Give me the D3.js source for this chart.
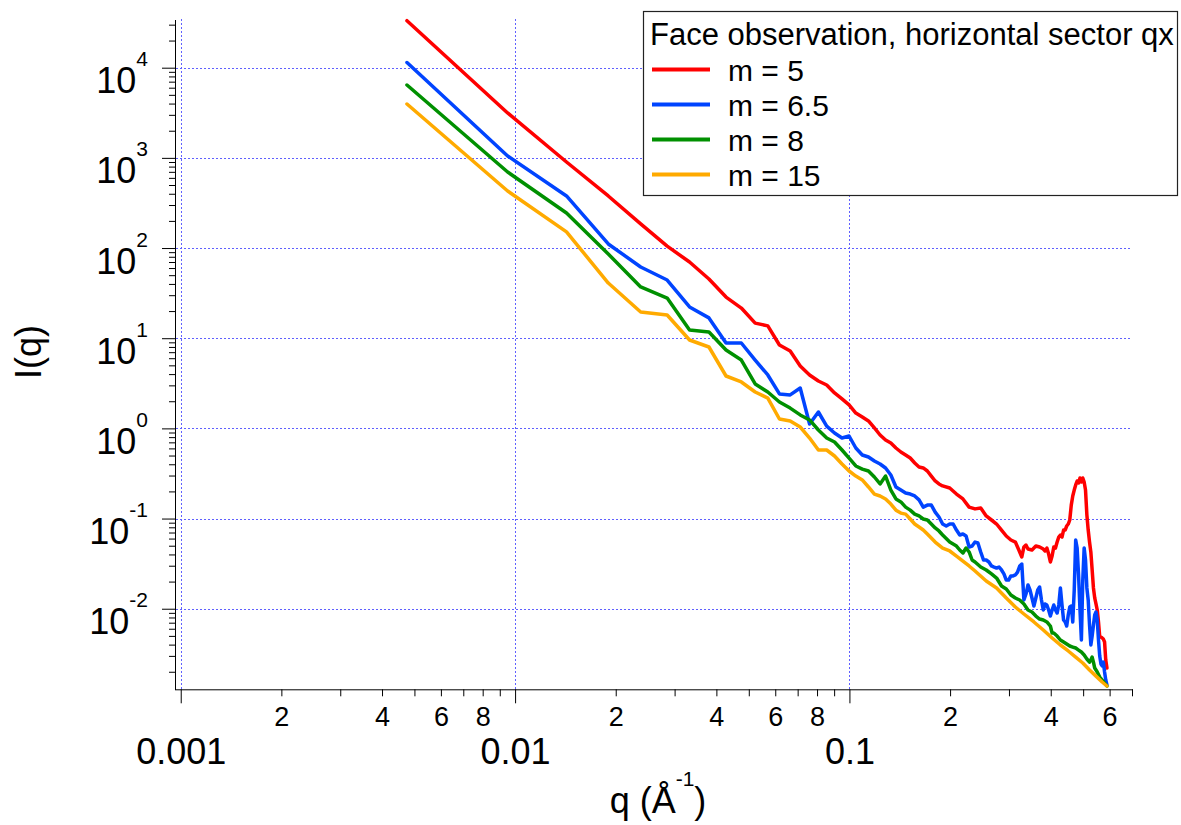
<!DOCTYPE html>
<html><head><meta charset="utf-8">
<script src="https://cdn.jsdelivr.net/npm/d3@7"></script>
<style>
body{margin:0;background:#fff}
svg{display:block}
text{font-family:"Liberation Sans",Arial,sans-serif}
</style>
</head><body>
<svg id="chart" width="1181" height="825"></svg>
<script>
// ---------- data (q in 1/Å, I(q) arbitrary units) ----------
const legendTitle = "Face observation, horizontal sector qx";
const seriesNames = ["m = 5", "m = 6.5", "m = 8", "m = 15"];
const seriesColors = ["#ff0000", "#0044ff", "#009000", "#ffaa00"];

const xDecades = [0.001, 0.01, 0.1];
const xDecadeLabels = ["0.001", "0.01", "0.1"];
const xMinorLabelled = [2, 4, 6, 8];
const yDecades = [1e-2, 1e-1, 1, 10, 100, 1000, 1e4];
const yExponents = ["-2", "-1", "0", "1", "2", "3", "4"];

const red = [[0.00475,33200],[0.0095,3150],[0.01425,900],[0.019,378],[0.02375,185],[0.0285,105],[0.03325,70],[0.038,45.4],[0.04275,28.6],[0.0475,21.6],[0.05225,14.7],[0.057,13.7],[0.06175,8.41],[0.0665,7.21],[0.07125,4.92],[0.076,3.91],[0.08075,3.35],[0.0855,3.03],[0.09025,2.47],[0.095,2.12],[0.09975,1.82],[0.1045,1.48],[0.10925,1.34],[0.114,1.21],[0.11875,1.01],[0.1235,0.845],[0.12825,0.743],[0.133,0.688],[0.13775,0.606],[0.1425,0.547],[0.14725,0.507],[0.152,0.469],[0.15675,0.413],[0.1615,0.373],[0.16625,0.364],[0.171,0.337],[0.17575,0.296],[0.1805,0.261],[0.18525,0.242],[0.19,0.230],[0.1995,0.218],[0.209,0.187],[0.2185,0.165],[0.228,0.134],[0.2375,0.128],[0.247,0.131],[0.2565,0.107],[0.266,0.0964],[0.2755,0.087],[0.285,0.0746],[0.2945,0.064],[0.304,0.0578],[0.3135,0.0549],[0.31825,0.0484],[0.323,0.0426],[0.32775,0.0375],[0.3325,0.0484],[0.33725,0.0509],[0.342,0.046],[0.3515,0.0448],[0.361,0.0496],[0.3705,0.0484],[0.38,0.046],[0.38475,0.0437],[0.3895,0.0471],[0.39425,0.0404],[0.399,0.033],[0.40375,0.0384],[0.4085,0.0484],[0.41325,0.0471],[0.418,0.0549],[0.42275,0.0624],[0.4275,0.0657],[0.43225,0.0624],[0.437,0.0746],[0.44175,0.0746],[0.4465,0.0827],[0.45125,0.087],[0.456,0.0964],[0.46075,0.141],[0.4655,0.178],[0.47025,0.207],[0.475,0.236],[0.47975,0.261],[0.4845,0.248],[0.48925,0.282],[0.494,0.254],[0.49875,0.282],[0.5035,0.254],[0.50825,0.207],[0.513,0.110],[0.51775,0.0746],[0.5225,0.0549],[0.52725,0.0426],[0.532,0.0269],[0.53675,0.017],[0.5415,0.0132],[0.54625,0.0113],[0.551,0.00968],[0.55575,0.00713],[0.5605,0.00486],[0.56525,0.00486],[0.57,0.00474],[0.57475,0.00461],[0.5795,0.00428],[0.58425,0.0027],[0.589,0.0022]];

const blue = [[0.00475,11400],[0.0095,1050],[0.01425,378],[0.019,111],[0.02375,61.6],[0.0285,44.2],[0.03325,22.2],[0.038,16.8],[0.04275,8.85],[0.0475,8.85],[0.05225,5.73],[0.057,3.91],[0.06175,2.41],[0.0665,2.35],[0.07125,2.80],[0.076,1.12],[0.08075,1.52],[0.0855,1.06],[0.09025,0.889],[0.095,0.782],[0.09975,0.823],[0.1045,0.606],[0.10925,0.507],[0.114,0.482],[0.11875,0.435],[0.1235,0.403],[0.12825,0.364],[0.133,0.304],[0.13775,0.224],[0.1425,0.207],[0.14725,0.192],[0.152,0.187],[0.15675,0.178],[0.1615,0.161],[0.16625,0.134],[0.171,0.141],[0.17575,0.141],[0.1805,0.118],[0.18525,0.104],[0.19,0.087],[0.19475,0.0827],[0.1995,0.087],[0.20425,0.087],[0.209,0.0746],[0.21375,0.0657],[0.2185,0.0674],[0.22325,0.064],[0.228,0.0484],[0.23275,0.0496],[0.2375,0.0549],[0.24225,0.0536],[0.247,0.0426],[0.25175,0.0347],[0.2565,0.0347],[0.26125,0.033],[0.266,0.0298],[0.27075,0.029],[0.2755,0.0283],[0.28025,0.029],[0.285,0.0269],[0.28975,0.0243],[0.2945,0.0208],[0.29925,0.0208],[0.304,0.0231],[0.30875,0.0231],[0.3135,0.0237],[0.31825,0.0255],[0.323,0.0298],[0.32775,0.0313],[0.3325,0.0125],[0.33725,0.01456],[0.342,0.01833],[0.34675,0.01613],[0.3515,0.01315],[0.35625,0.01072],[0.361,0.01315],[0.36575,0.01613],[0.3705,0.01741],[0.37525,0.0125],[0.38,0.00968],[0.38475,0.0113],[0.3895,0.011],[0.39425,0.00968],[0.399,0.0083],[0.40375,0.00968],[0.4085,0.011],[0.41325,0.00968],[0.418,0.00896],[0.42275,0.011],[0.4275,0.017],[0.43225,0.011],[0.437,0.0075],[0.44175,0.00713],[0.4465,0.00643],[0.45125,0.00852],[0.456,0.01045],[0.46075,0.01072],[0.4655,0.00713],[0.47025,0.0161],[0.475,0.0578],[0.47975,0.0471],[0.4845,0.0237],[0.48925,0.00968],[0.494,0.0045],[0.49875,0.0208],[0.5035,0.0471],[0.50825,0.0347],[0.513,0.017],[0.51775,0.0125],[0.5225,0.0066],[0.52725,0.00396],[0.532,0.00498],[0.53675,0.0066],[0.5415,0.00852],[0.54625,0.0092],[0.551,0.0075],[0.55575,0.0045],[0.5605,0.00299],[0.56525,0.00244],[0.57,0.00232],[0.57475,0.00256],[0.5795,0.00199],[0.58425,0.00162],[0.589,0.00143]];

const green = [[0.00475,6430],[0.0095,697],[0.01425,245],[0.019,85.9],[0.02375,37.0],[0.0285,27.9],[0.03325,12.3],[0.038,11.7],[0.04275,7.40],[0.0475,5.73],[0.05225,3.11],[0.057,2.53],[0.06175,1.96],[0.0665,1.68],[0.07125,1.41],[0.076,1.24],[0.08075,0.959],[0.0855,0.782],[0.09025,0.706],[0.095,0.576],[0.09975,0.469],[0.1045,0.383],[0.10925,0.354],[0.114,0.337],[0.11875,0.289],[0.1235,0.242],[0.12825,0.296],[0.133,0.207],[0.13775,0.165],[0.1425,0.153],[0.14725,0.134],[0.152,0.124],[0.15675,0.112],[0.1615,0.107],[0.16625,0.0989],[0.171,0.0964],[0.17575,0.087],[0.1805,0.0786],[0.18525,0.0728],[0.19,0.0657],[0.1995,0.0549],[0.209,0.0496],[0.21375,0.0448],[0.2185,0.0415],[0.22325,0.0471],[0.228,0.0426],[0.23275,0.0347],[0.2375,0.033],[0.247,0.029],[0.2565,0.0269],[0.266,0.0243],[0.2755,0.0219],[0.285,0.01786],[0.2945,0.01655],[0.304,0.0142],[0.3135,0.01315],[0.323,0.0125],[0.3325,0.0113],[0.342,0.00968],[0.3515,0.0092],[0.361,0.0083],[0.3705,0.00769],[0.38,0.0075],[0.3895,0.00713],[0.399,0.00643],[0.40375,0.00538],[0.4085,0.00538],[0.418,0.00498],[0.4275,0.0045],[0.437,0.00428],[0.4465,0.00406],[0.456,0.00386],[0.4655,0.00376],[0.475,0.00367],[0.4845,0.00348],[0.494,0.00331],[0.5035,0.00307],[0.513,0.00277],[0.5225,0.00256],[0.52725,0.0027],[0.532,0.00291],[0.53675,0.00256],[0.5415,0.0022],[0.551,0.00199],[0.5605,0.00175],[0.57,0.00162],[0.5795,0.0015],[0.589,0.00139]];

const orange = [[0.00475,3958],[0.0095,429],[0.01425,151],[0.019,40.9],[0.02375,19.5],[0.0285,18.1],[0.03325,9.55],[0.038,7.99],[0.04275,3.81],[0.0475,3.27],[0.05225,2.53],[0.057,2.17],[0.06175,1.27],[0.0665,1.21],[0.07125,1.036],[0.076,0.782],[0.08075,0.576],[0.0855,0.576],[0.09025,0.494],[0.095,0.403],[0.09975,0.337],[0.1045,0.296],[0.10925,0.268],[0.114,0.224],[0.11875,0.187],[0.1235,0.178],[0.12825,0.165],[0.133,0.145],[0.13775,0.124],[0.1425,0.115],[0.14725,0.112],[0.152,0.0989],[0.15675,0.087],[0.1615,0.0806],[0.16625,0.0746],[0.171,0.0674],[0.1805,0.0549],[0.19,0.0471],[0.1995,0.0437],[0.209,0.0384],[0.2185,0.0338],[0.228,0.0298],[0.2375,0.0262],[0.2565,0.0203],[0.2755,0.017],[0.2945,0.01315],[0.3135,0.01045],[0.3325,0.00874],[0.35625,0.00713],[0.38,0.00581],[0.40375,0.00474],[0.4275,0.00396],[0.45125,0.0034],[0.475,0.00291],[0.49875,0.0025],[0.5225,0.00209],[0.54625,0.00179],[0.57,0.00154],[0.589,0.00139]];

const allSeries = [red, blue, green, orange];

// ---------- layout ----------
const svg = d3.select("#chart");
const W = 1181, H = 825;
const x = d3.scaleLog().domain([0.000968, 0.7]).range([176, 1132]);
const y = d3.scaleLog().domain([0.001278, 33800]).range([689.3, 20]);
const [x0, x1] = x.range();
const [yb, yt] = y.range();

svg.append("rect").attr("width", W).attr("height", H).attr("fill", "#fff");

// grid
const grid = svg.append("g").attr("stroke", "#6060ff").attr("stroke-width", 1).attr("stroke-dasharray", "2,2");
grid.selectAll("line.hg").data(yDecades).join("line").attr("class", "hg")
  .attr("x1", x0).attr("x2", x1)
  .attr("y1", d => Math.round(y(d)) + 0.5).attr("y2", d => Math.round(y(d)) + 0.5);
grid.selectAll("line.vg").data(xDecades).join("line").attr("class", "vg")
  .attr("y1", yt - 1).attr("y2", yb)
  .attr("x1", d => Math.round(x(d)) + 0.5).attr("x2", d => Math.round(x(d)) + 0.5);

// curves
const line = d3.line().x(d => x(d[0])).y(d => y(d[1]));
svg.append("g").selectAll("path").data(allSeries).join("path")
  .attr("d", line).attr("fill", "none")
  .attr("stroke", (d, i) => seriesColors[i])
  .attr("stroke-width", 3.5).attr("stroke-linejoin", "round").attr("stroke-linecap", "round");

// x axis
const xAll = x.ticks();
const xMinor = xAll.filter(v => !xDecades.some(d => Math.abs(v / d - 1) < 1e-6));
const gxMinor = svg.append("g").attr("transform", `translate(0,${yb})`)
  .call(d3.axisBottom(x).tickValues(xMinor).tickSize(7).tickSizeOuter(0)
    .tickFormat(v => { const m = Math.round(v / Math.pow(10, Math.floor(Math.log10(v) + 1e-9))); return xMinorLabelled.includes(m) ? String(m) : ""; }));
gxMinor.select(".domain").remove();
gxMinor.selectAll(".tick text").attr("y", 37).attr("dy", 0).attr("font-size", 27).attr("fill", "#000");

const gxMajor = svg.append("g").attr("transform", `translate(0,${yb})`)
  .call(d3.axisBottom(x).tickValues(xDecades).tickSize(14).tickSizeOuter(0)
    .tickFormat((v, i) => xDecadeLabels[i]));
gxMajor.selectAll(".tick text").attr("y", 75).attr("dy", 0).attr("font-size", 36).attr("fill", "#000");
gxMajor.select(".domain").attr("d", `M${x0},0.5H${x1 + 1}`);

// y axis
const yAll = y.ticks();
const yMinor = yAll.filter(v => !yDecades.some(d => Math.abs(v / d - 1) < 1e-6));
const gyMinor = svg.append("g").attr("transform", `translate(${x0},0)`)
  .call(d3.axisLeft(y).tickValues(yMinor).tickSize(7).tickSizeOuter(0).tickFormat(""));
gyMinor.select(".domain").remove();
gyMinor.selectAll(".tick text").remove();

const gyMajor = svg.append("g").attr("transform", `translate(${x0},0)`)
  .call(d3.axisLeft(y).tickValues(yDecades).tickSize(14).tickSizeOuter(0).tickFormat(""));
gyMajor.select(".domain").attr("d", `M-0.5,${yt}V${yb + 1}`);
gyMajor.selectAll(".tick text").each(function(d, i) {
  const t = d3.select(this);
  t.text(null).attr("x", -28).attr("y", 25).attr("dy", 0).attr("text-anchor", "end").attr("fill", "#000");
  t.append("tspan").attr("font-size", 36).text("10");
  t.append("tspan").attr("font-size", 21).attr("dy", -27).text(yExponents[i]);
});

// axis titles
svg.append("text").attr("transform", "translate(41,352) rotate(-90)")
  .attr("text-anchor", "middle").attr("font-size", 36).text("I(q)");
const xt = svg.append("text").attr("x", (x0 + x1) / 2 + 4).attr("y", 813)
  .attr("text-anchor", "middle").attr("font-size", 36);
xt.append("tspan").text("q (Å");
xt.append("tspan").attr("font-size", 21).attr("dy", -27).text("-1");
xt.append("tspan").attr("dy", 27).text(")");

// legend
const lg = svg.append("g");
lg.append("rect").attr("x", 643.5).attr("y", 11.5).attr("width", 534).attr("height", 184)
  .attr("fill", "#fff").attr("stroke", "#222").attr("stroke-width", 1.2);
lg.append("text").attr("x", 650).attr("y", 45).attr("font-size", 31).text(legendTitle);
const rows = lg.selectAll(".row").data(seriesNames).join("g")
  .attr("transform", (d, i) => `translate(0,${69.5 + i * 35})`);
rows.append("line").attr("x1", 652).attr("x2", 710)
  .attr("stroke", (d, i) => seriesColors[i]).attr("stroke-width", 4);
rows.append("text").attr("x", 728).attr("y", 11).attr("font-size", 30).text(d => d);
</script>
</body></html>
